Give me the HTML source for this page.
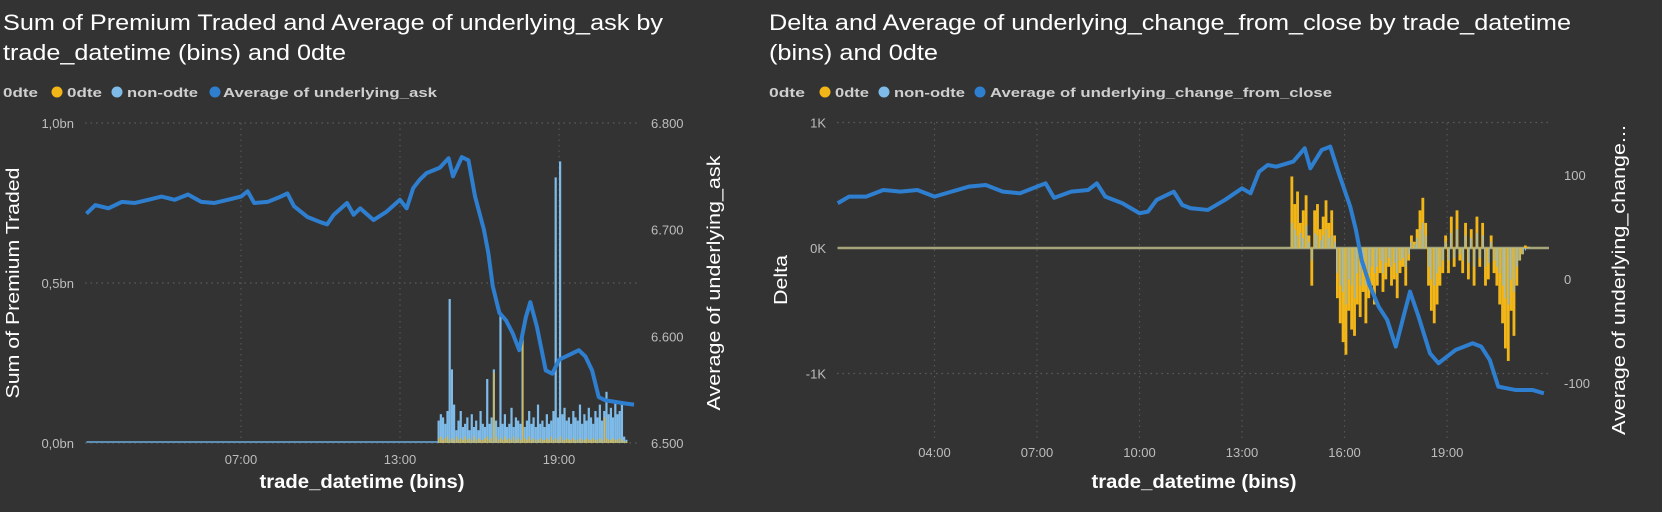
<!DOCTYPE html>
<html><head><meta charset="utf-8"><style>
html,body{margin:0;padding:0;background:#333333;}
svg{display:block;font-family:"Liberation Sans",sans-serif;}
</style></head><body>
<svg id="c" width="1662" height="512" viewBox="0 0 1662 512">
<rect width="1662" height="512" fill="#333333"/>
<g id="left">
 <text x="3" y="30" fill="#fff" font-size="22" textLength="660" lengthAdjust="spacingAndGlyphs">Sum of Premium Traded and Average of underlying_ask by</text>
 <text x="3" y="60" fill="#fff" font-size="22" textLength="343" lengthAdjust="spacingAndGlyphs">trade_datetime (bins) and 0dte</text>
 <g font-size="13" font-weight="bold" fill="#cfcfcf">
  <text x="3" y="97" textLength="35" lengthAdjust="spacingAndGlyphs">0dte</text>
  <circle cx="57" cy="92" r="5.5" fill="#f2b619"/>
  <text x="67" y="97" textLength="35" lengthAdjust="spacingAndGlyphs">0dte</text>
  <circle cx="117" cy="92" r="5.5" fill="#7fbbe8"/>
  <text x="127" y="97" textLength="71" lengthAdjust="spacingAndGlyphs">non-odte</text>
  <circle cx="215" cy="92" r="5.5" fill="#2f7fd0"/>
  <text x="223" y="97" textLength="214" lengthAdjust="spacingAndGlyphs">Average of underlying_ask</text>
 </g>
 <text transform="translate(19,283) rotate(-90)" text-anchor="middle" fill="#fff" font-size="18" textLength="231" lengthAdjust="spacingAndGlyphs">Sum of Premium Traded</text>
 <text transform="translate(720,283) rotate(-90)" text-anchor="middle" fill="#fff" font-size="18" textLength="255" lengthAdjust="spacingAndGlyphs">Average of underlying_ask</text>
 <text x="362" y="488" text-anchor="middle" fill="#fff" font-size="19" font-weight="bold" textLength="205" lengthAdjust="spacingAndGlyphs">trade_datetime (bins)</text>
 <g id="lgrid"></g><g id="lbars"></g><g id="lline"></g><g id="lticks"></g>
</g>
<g id="right">
 <text x="769" y="30" fill="#fff" font-size="22" textLength="802" lengthAdjust="spacingAndGlyphs">Delta and Average of underlying_change_from_close by trade_datetime</text>
 <text x="769" y="60" fill="#fff" font-size="22" textLength="169" lengthAdjust="spacingAndGlyphs">(bins) and 0dte</text>
 <g font-size="13" font-weight="bold" fill="#cfcfcf">
  <text x="769" y="97" textLength="36" lengthAdjust="spacingAndGlyphs">0dte</text>
  <circle cx="825" cy="92" r="5.5" fill="#f2b619"/>
  <text x="835" y="97" textLength="34" lengthAdjust="spacingAndGlyphs">0dte</text>
  <circle cx="884" cy="92" r="5.5" fill="#7fbbe8"/>
  <text x="894" y="97" textLength="71" lengthAdjust="spacingAndGlyphs">non-odte</text>
  <circle cx="980" cy="92" r="5.5" fill="#2f7fd0"/>
  <text x="990" y="97" textLength="342" lengthAdjust="spacingAndGlyphs">Average of underlying_change_from_close</text>
 </g>
 <text transform="translate(787,280) rotate(-90)" text-anchor="middle" fill="#fff" font-size="18" textLength="50" lengthAdjust="spacingAndGlyphs">Delta</text>
 <text transform="translate(1625,280) rotate(-90)" text-anchor="middle" fill="#fff" font-size="18" textLength="310" lengthAdjust="spacingAndGlyphs">Average of underlying_change...</text>
 <text x="1194" y="488" text-anchor="middle" fill="#fff" font-size="19" font-weight="bold" textLength="205" lengthAdjust="spacingAndGlyphs">trade_datetime (bins)</text>
 <g id="rgrid"></g><g id="rbars"></g><g id="rline"></g><g id="rticks"></g>
</g>
</svg>
<script>
// ---- data ----
const lineTimes = ["01:10","01:30","02:00","02:30","03:00","03:30","04:00","04:30","05:00","05:30","06:00","06:30","07:00","07:15","07:30","08:00","08:30","08:45","09:00","09:30","10:00","10:15","10:30","11:00","11:15","11:30","12:00","12:30","13:00","13:15","13:30","13:45","14:00","14:30","14:50","15:00","15:20","15:35","15:50","16:10","16:20","16:30","16:45","17:00","17:15","17:30","17:45","17:55","18:10","18:30","18:45","19:00","19:15","19:30","19:45","20:00","20:15","20:30","20:45","21:00","21:30","21:50"];
const askValues = [6.715,6.723,6.720,6.726,6.725,6.728,6.731,6.728,6.733,6.726,6.725,6.728,6.731,6.736,6.725,6.726,6.731,6.734,6.722,6.712,6.707,6.705,6.714,6.725,6.714,6.720,6.709,6.717,6.728,6.720,6.739,6.747,6.753,6.758,6.767,6.750,6.768,6.765,6.731,6.700,6.678,6.647,6.622,6.615,6.603,6.587,6.618,6.632,6.609,6.568,6.565,6.578,6.581,6.584,6.587,6.581,6.568,6.543,6.540,6.539,6.537,6.536];
const changeValues = [72.8,79.2,79.2,85.6,84.0,85.6,79.2,84.0,88.8,90.4,84.0,82.4,88.8,92.0,78.0,84.0,85.6,92.0,79.2,72.8,63.2,64.8,76.0,84.0,71.2,68.0,66.4,76.0,87.2,82.4,103.2,109.6,108.0,112.9,125.7,106.4,124.1,127.3,101.6,69.6,47.2,18.3,-7.3,-26.6,-39.4,-65.0,-33.0,-12.1,-36.2,-71.4,-81.0,-74.6,-68.2,-65.0,-61.8,-65.0,-77.8,-103.5,-105.1,-106.7,-106.7,-109.9];
const barStart = "14:25"; // first 5-minute bin
const premiumNonOdte = [0.07,0.09,0.08,0.06,0.1,0.45,0.23,0.12,0.04,0.07,0.1,0.05,0.06,0.08,0.04,0.09,0.05,0.07,0.04,0.1,0.06,0.05,0.2,0.06,0.08,0.23,0.07,0.05,0.4,0.06,0.09,0.05,0.06,0.11,0.05,0.08,0.07,0.06,0.34,0.05,0.07,0.1,0.06,0.08,0.05,0.12,0.06,0.07,0.05,0.09,0.06,0.07,0.1,0.83,0.08,0.88,0.09,0.11,0.07,0.08,0.06,0.1,0.08,0.07,0.12,0.06,0.09,0.07,0.11,0.08,0.06,0.1,0.08,0.12,0.07,0.1,0.16,0.09,0.11,0.08,0.13,0.09,0.1,0.12,0.02,0.01];
const premiumOdte = [0.015,0.02,0.01,0.015,0.02,0.01,0.015,0.01,0.02,0.01,0.015,0.01,0.02,0.01,0.015,0.01,0.02,0.01,0.015,0.01,0.01,0.015,0.02,0.01,0.015,0.22,0.02,0.01,0.015,0.01,0.02,0.01,0.015,0.01,0.02,0.01,0.015,0.01,0.35,0.015,0.01,0.02,0.01,0.015,0.01,0.01,0.015,0.01,0.01,0.015,0.01,0.02,0.01,0.015,0.01,0.02,0.01,0.01,0.015,0.01,0.01,0.015,0.01,0.01,0.015,0.01,0.01,0.015,0.01,0.01,0.015,0.01,0.01,0.015,0.01,0.08,0.015,0.01,0.01,0.015,0.01,0.01,0.015,0.01,0.005,0.005];
const deltaOdte = [0.57,0.35,0.45,0.2,0.3,0.42,0.1,-0.3,0.3,0.35,0.15,0.25,0.38,0.2,0.3,0.1,-0.4,-0.6,-0.75,-0.85,-0.5,-0.65,-0.7,-0.45,-0.55,-0.35,-0.6,-0.4,-0.3,-0.45,-0.3,-0.2,-0.35,-0.25,-0.15,-0.3,-0.25,-0.4,-0.2,-0.15,-0.3,-0.1,0.1,0.05,0.15,0.3,0.4,0.2,-0.3,-0.5,-0.6,-0.45,-0.3,-0.2,0.1,-0.2,0.25,-0.15,0.3,-0.1,-0.2,0.2,-0.25,0.15,-0.3,0.25,-0.15,0.2,-0.3,-0.25,0.1,-0.2,-0.3,-0.45,-0.6,-0.8,-0.9,-0.5,-0.7,-0.3,-0.1,-0.05,0.02,0.01,0,0];
const deltaNonOdte = [0.2,0.15,0.1,0.12,0.08,0.18,0.05,-0.1,0.12,0.1,0.06,0.1,0.15,0.08,0.1,0.05,-0.2,-0.3,-0.35,-0.45,-0.25,-0.3,-0.4,-0.2,-0.3,-0.15,-0.3,-0.2,-0.15,-0.2,-0.15,-0.1,-0.2,-0.12,-0.08,-0.15,-0.12,-0.2,-0.1,-0.08,-0.15,-0.05,0.05,0.03,0.08,0.15,0.2,0.1,-0.15,-0.25,-0.3,-0.2,-0.15,-0.1,0.05,-0.1,0.12,-0.08,0.15,-0.05,-0.1,0.1,-0.12,0.08,-0.15,0.12,-0.08,0.1,-0.15,-0.12,0.05,-0.1,-0.15,-0.2,-0.3,-0.4,-0.45,-0.25,-0.35,-0.15,-0.1,-0.05,-0.02,0.01,0,0];
const leftXTicks = ["07:00","13:00","19:00"];
const rightXTicks = ["04:00","07:00","10:00","13:00","16:00","19:00"];
const leftYTicks = [0,0.5,1.0];
const leftYLabels = ["0,0bn","0,5bn","1,0bn"];
const leftY2Ticks = [6.5,6.6,6.7,6.8];
const leftY2Labels = ["6.500","6.600","6.700","6.800"];
const rightYTicks = [-1,0,1];
const rightYLabels = ["-1K","0K","1K"];
const rightY2Ticks = [-100,0,100];
const rightY2Labels = ["-100","0","100"];

// ---- scales ----
const hrs = s => { const [h,m] = s.split(":").map(Number); return h + m/60; };
const lx = t => 241 + (t - 7) * 26.5;
const ly = v => 443 - v * 320;
const ly2 = v => 443 - (v - 6.5) * 1066.7;
const rx = t => 1037 + (t - 7) * 34.17;
const ry = v => 248 - v * 125.5;
const ry2 = v => 279 - v * 1.04;
const NS = "http://www.w3.org/2000/svg";
function mk(tag, parent, attrs) { const e = document.createElementNS(NS, tag); for (const k in attrs) e.setAttribute(k, attrs[k]); parent.appendChild(e); return e; }
const binT = i => hrs(barStart) + i * 5/60;

// ---- left chart ----
const lgrid = document.getElementById("lgrid");
leftYTicks.forEach((v,i) => {
  const ln = mk("line", lgrid, {x1:85,x2:640,y1:ly(v),y2:ly(v),stroke:"#5c5c5c","stroke-dasharray":"1.5 4","stroke-width":1.2});
  
  
  const t = mk("text", lgrid, {x:74,y:ly(v)+5,"text-anchor":"end",fill:"#bdbdbd","font-size":13});
  t.textContent = leftYLabels[i];
  
  
});
leftY2Ticks.forEach((v,i) => {
  const t = mk("text", lgrid, {x:651,y:ly2(v)+5,fill:"#bdbdbd","font-size":13});
  t.textContent = leftY2Labels[i];
  
  
});
leftXTicks.forEach(s => {
  const x = lx(hrs(s));
  const ln = mk("line", lgrid, {x1:x,x2:x,y1:123,y2:443,stroke:"#555","stroke-dasharray":"1.5 4","stroke-width":1.2});
  
  
  const t = mk("text", lgrid, {x:x,y:464,"text-anchor":"middle",fill:"#bdbdbd","font-size":13});
  t.textContent = s;
  
  
});
const lbars = document.getElementById("lbars");
const lbase = mk("line", lbars, {x1:lx(hrs(lineTimes[0])),x2:lx(binT(0)),y1:ly(0)-1,y2:ly(0)-1,stroke:"#5d8fb5","stroke-width":2});


const lw = lx(binT(1)) - lx(binT(0));
premiumNonOdte.forEach((v,i) => {
  const x = lx(binT(i));
  const r = mk("rect", lbars, {x:x,y:ly(v),width:lw,height:ly(0)-ly(v),fill:"#7fbbe8"});
  
  
});
premiumOdte.forEach((v,i) => {
  const x = lx(binT(i));
  const r = mk("rect", lbars, {x:x+lw*0.3,y:ly(v),width:lw*0.5,height:ly(0)-ly(v),fill:"#f2b619"});
  
  
});
const lpath = mk("polyline", document.getElementById("lline"), {points:lineTimes.map((s,i)=>lx(hrs(s))+","+ly2(askValues[i])).join(" "),fill:"none",stroke:"#2f7fd0","stroke-width":4,"stroke-linejoin":"round"});



// ---- right chart ----
const rgrid = document.getElementById("rgrid");
rightYTicks.forEach((v,i) => {
  const ln = mk("line", rgrid, {x1:837,x2:1551,y1:ry(v),y2:ry(v),stroke:"#5c5c5c","stroke-dasharray":"1.5 4","stroke-width":1.2});
  
  
  const t = mk("text", rgrid, {x:826,y:ry(v)+5,"text-anchor":"end",fill:"#bdbdbd","font-size":13});
  t.textContent = rightYLabels[i];
  
  
});
rightY2Ticks.forEach((v,i) => {
  const t = mk("text", rgrid, {x:1564,y:ry2(v)+5,fill:"#bdbdbd","font-size":13});
  t.textContent = rightY2Labels[i];
  
  
});
rightXTicks.forEach(s => {
  const x = rx(hrs(s));
  const ln = mk("line", rgrid, {x1:x,x2:x,y1:123,y2:440,stroke:"#555","stroke-dasharray":"1.5 4","stroke-width":1.2});
  
  
  const t = mk("text", rgrid, {x:x,y:457,"text-anchor":"middle",fill:"#bdbdbd","font-size":13});
  t.textContent = s;
  
  
});
const rbars = document.getElementById("rbars");
const rbase = mk("line", rbars, {x1:rx(hrs(lineTimes[0])),x2:1549,y1:ry(0),y2:ry(0),stroke:"#a6a57a","stroke-width":2.5});


const rw = rx(binT(1)) - rx(binT(0));
deltaOdte.forEach((v,i) => {
  const x = rx(binT(i));
  const r = mk("rect", rbars, {x:x,y:Math.min(ry(v),ry(0)),width:rw,height:Math.abs(ry(v)-ry(0)),fill:"#f2b619"});
  
  
});
deltaNonOdte.forEach((v,i) => {
  const x = rx(binT(i));
  const r = mk("rect", rbars, {x:x+rw*0.35,y:Math.min(ry(v),ry(0)),width:rw*0.4,height:Math.abs(ry(v)-ry(0)),fill:"#7fbbe8"});
  
  
});
const rpath = mk("polyline", document.getElementById("rline"), {points:lineTimes.map((s,i)=>rx(hrs(s))+","+ry2(changeValues[i])).join(" "),fill:"none",stroke:"#2f7fd0","stroke-width":4,"stroke-linejoin":"round"});


</script>
</body></html>
